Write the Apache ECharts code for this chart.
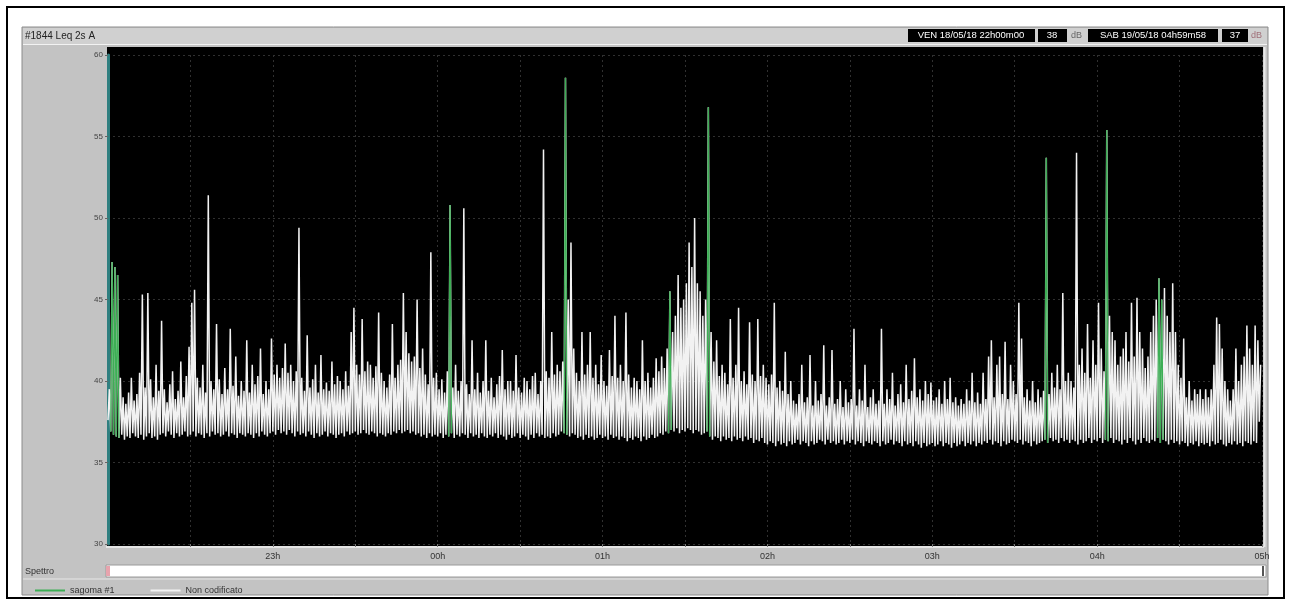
<!DOCTYPE html>
<html>
<head>
<meta charset="utf-8">
<script src="https://cdn.jsdelivr.net/npm/echarts@6/dist/echarts.min.js"></script>
<style>
  html, body { margin: 0; padding: 0; background: #fff; }
  #chart { width: 1290px; height: 605px; }
</style>
</head>
<body>
<div id="chart"></div>
<script>
// Time axis: minutes elapsed since 22h00, one hour label every 60 minutes
const hourLabels = ['22h', '23h', '00h', '01h', '02h', '03h', '04h', '05h'];

// Leq 2s A, per-minute minimum (dB)
const leqLow = [
  37.6,36.9,36.7,36.6,36.5,36.7,36.4,36.6,36.5,36.8,
  36.6,36.5,36.7,36.4,36.6,36.8,36.5,36.6,36.4,36.7,
  36.8,36.6,36.9,36.7,36.5,36.8,36.6,36.7,36.9,36.6,
  36.7,36.9,36.6,36.8,36.7,36.5,36.8,36.6,36.9,36.7,
  36.8,36.6,36.7,36.9,36.6,36.8,36.7,36.5,36.8,36.7,
  36.6,36.8,36.7,36.5,36.8,36.6,36.9,36.7,36.6,36.8,
  36.9,36.7,37.0,36.8,36.9,36.7,37.0,36.8,36.6,36.9,
  36.7,36.8,36.6,36.9,36.7,36.5,36.8,36.6,36.7,36.9,
  36.6,36.8,36.7,36.5,36.7,36.8,36.6,36.9,36.7,36.8,
  36.9,36.7,36.8,37.0,36.8,36.7,36.9,36.8,36.6,36.8,
  36.7,36.6,36.8,36.7,36.9,36.8,37.0,36.8,36.9,37.0,
  36.8,36.9,36.7,36.8,36.6,36.7,36.5,36.8,36.6,36.7,
  36.6,36.8,36.5,36.7,36.6,36.8,36.5,36.7,36.6,36.8,
  36.7,36.5,36.8,36.6,36.7,36.5,36.8,36.6,36.5,36.7,
  36.6,36.8,36.5,36.7,36.6,36.4,36.7,36.5,36.6,36.8,
  36.5,36.7,36.6,36.4,36.7,36.5,36.8,36.6,36.7,36.5,
  36.6,36.5,36.8,36.6,36.7,36.9,36.8,36.7,36.6,36.8,
  36.7,36.5,36.6,36.4,36.7,36.5,36.6,36.4,36.5,36.7,
  36.5,36.6,36.4,36.7,36.5,36.6,36.4,36.6,36.5,36.3,
  36.5,36.4,36.6,36.5,36.3,36.6,36.4,36.5,36.7,36.5,
  36.6,36.8,36.7,36.9,36.8,37.0,36.9,37.1,36.8,37.0,
  36.9,37.1,37.0,36.8,37.0,36.9,36.7,36.8,36.9,36.6,
  36.4,36.6,36.5,36.3,36.6,36.4,36.5,36.3,36.6,36.4,
  36.5,36.3,36.6,36.4,36.5,36.2,36.4,36.3,36.5,36.2,
  36.1,36.3,36.2,36.0,36.3,36.1,36.2,36.0,36.3,36.1,
  36.2,36.4,36.1,36.3,36.2,36.0,36.3,36.1,36.2,36.4,
  36.3,36.1,36.4,36.2,36.3,36.1,36.2,36.4,36.1,36.3,
  36.2,36.4,36.1,36.3,36.2,36.0,36.3,36.2,36.1,36.3,
  36.2,36.0,36.3,36.1,36.2,36.4,36.1,36.3,36.2,36.0,
  36.3,36.1,36.2,36.0,36.3,36.1,35.9,36.2,36.0,36.1,
  36.2,36.0,36.1,36.3,36.0,36.2,36.1,35.9,36.2,36.0,
  36.1,36.3,36.0,36.2,36.1,36.3,36.0,36.2,36.1,36.3,
  36.2,36.4,36.1,36.3,36.2,36.0,36.3,36.1,36.2,36.4,
  36.3,36.2,36.4,36.1,36.3,36.2,36.0,36.3,36.1,36.2,
  36.3,36.4,36.2,36.5,36.3,36.4,36.2,36.5,36.3,36.4,
  36.2,36.4,36.3,36.1,36.4,36.2,36.3,36.5,36.2,36.4,
  36.3,36.5,36.2,36.4,36.3,36.5,36.2,36.4,36.3,36.1,
  36.4,36.2,36.5,36.3,36.1,36.4,36.2,36.5,36.3,36.2,
  36.4,36.3,36.5,36.2,36.4,36.3,36.1,36.4,36.2,36.3,
  36.1,36.3,36.2,36.0,36.2,36.1,36.3,36.0,36.2,36.1,
  36.2,36.0,36.3,36.1,36.2,36.4,36.1,36.0,36.2,36.1,
  36.3,36.1,36.2,36.0,36.3,36.2,36.1,36.3,36.2,37.5
];

// Leq 2s A, per-minute maximum (dB)
const leqHigh = [
  39.5,47.3,47.0,46.5,40.2,39.0,38.6,39.3,40.2,38.8,
  39.2,40.5,45.3,39.6,45.4,40.1,39.0,41.0,39.4,43.7,
  39.5,38.7,39.8,40.6,38.9,39.4,41.2,39.0,40.3,42.1,
  44.8,45.6,40.2,39.6,41.0,39.3,51.4,40.0,39.5,43.5,
  40.1,39.2,40.8,39.5,43.2,39.7,41.5,39.1,40.0,39.4,
  42.5,39.3,41.0,39.8,40.3,42.0,39.2,40.0,39.5,42.6,
  40.4,41.0,40.2,40.8,42.3,40.5,41.0,40.0,40.6,49.4,
  40.2,39.4,42.8,39.6,40.1,41.0,39.3,41.6,39.5,39.9,
  39.4,41.2,39.8,40.3,40.0,39.5,40.6,39.7,43.0,44.5,
  41.0,40.4,43.8,40.6,41.2,41.0,40.2,40.9,44.2,40.5,
  40.0,39.6,40.4,43.5,40.2,41.0,41.3,45.4,43.0,41.7,
  41.2,41.5,45.0,40.8,42.0,40.4,39.8,47.9,40.2,40.5,
  39.5,40.1,39.3,40.6,50.8,39.6,41.0,39.4,40.0,50.6,
  39.8,39.2,42.5,39.5,40.5,39.3,40.0,42.5,39.4,40.2,
  39.0,39.8,40.3,41.9,39.5,40.0,40.0,39.4,41.6,39.6,
  39.3,40.2,40.0,39.5,40.3,40.5,39.2,40.0,54.2,40.6,
  40.2,43.0,40.4,41.0,40.6,41.2,58.6,45.0,48.5,42.0,
  40.5,40.0,43.0,40.4,41.0,43.0,40.2,41.0,39.8,41.6,
  40.0,39.7,41.9,40.3,44.0,40.2,41.0,40.0,44.2,40.4,
  39.6,40.2,40.0,39.5,42.5,40.0,40.5,39.6,40.2,41.4,
  40.6,41.5,40.8,42.0,45.5,43.0,44.0,46.5,44.5,45.0,
  46.0,48.5,47.0,50.0,46.0,45.5,44.0,45.0,56.8,43.0,
  41.2,42.5,40.3,41.0,40.5,39.8,43.8,40.2,41.0,44.5,
  40.0,40.6,39.8,43.6,40.4,40.0,43.8,40.3,41.0,40.2,
  39.8,40.4,44.8,39.6,40.0,39.4,41.8,39.2,40.0,38.8,
  38.6,39.2,41.0,38.7,39.0,41.6,38.5,40.0,38.8,39.2,
  42.2,38.5,39.0,41.9,38.6,38.9,40.0,38.4,39.5,38.7,
  38.9,43.2,38.5,39.5,38.8,41.0,38.4,39.0,39.5,38.6,
  38.8,43.2,38.6,39.5,38.9,40.5,38.5,39.2,39.8,38.7,
  41.0,38.9,39.4,41.4,39.0,39.5,38.8,40.0,39.2,39.9,
  38.8,39.0,39.5,38.6,40.0,38.9,40.2,38.7,39.0,38.5,
  38.9,38.6,39.5,38.8,40.5,38.7,39.3,38.6,40.5,38.9,
  41.5,42.5,39.0,41.0,41.5,39.2,42.4,38.9,41.0,40.0,
  39.2,44.8,42.6,39.0,39.5,38.8,40.0,38.7,39.5,39.0,
  39.4,53.7,39.2,40.5,39.6,41.0,39.5,45.4,40.0,40.5,
  40.0,39.6,54.0,41.0,42.0,40.5,43.5,40.2,42.5,41.0,
  44.8,42.0,40.6,55.4,44.0,43.0,42.5,41.0,41.5,42.0,
  43.0,41.2,44.8,41.5,45.1,43.0,42.0,40.8,41.5,43.0,
  44.0,45.0,46.3,45.0,45.7,44.0,43.0,46.0,43.0,41.0,
  40.2,42.6,39.0,40.0,38.8,39.5,39.2,39.5,38.9,39.5,
  39.0,39.5,41.0,43.9,43.5,42.0,40.0,39.5,38.8,39.5,
  42.0,40.0,41.0,41.5,43.4,42.0,41.0,43.4,42.5,41.0
];

// Minutes classified as "sagoma #1"
const sagomaMinutes = [1, 2, 3, 124, 166, 204, 218, 341, 363, 382, 383];

// Header readouts
const startStamp = 'VEN 18/05/18 22h00m00';
const startLevel = '38';
const endStamp = 'SAB 19/05/18 04h59m58';
const endLevel = '37';

// Each minute is drawn as its minimum then its maximum, half a minute apart
const leqSeries = [];
leqLow.forEach((lo, m) => {
  leqSeries.push([m, lo]);
  leqSeries.push([m + 0.5, leqHigh[m]]);
});

const sagomaSeries = [];
sagomaMinutes.forEach(m => {
  sagomaSeries.push([m, leqLow[m]]);
  sagomaSeries.push([m + 0.5, leqHigh[m]]);
  sagomaSeries.push([m + 1, leqLow[m + 1]]);
  sagomaSeries.push([m + 1.1, '-']);
});

const FONT = 'Liberation Sans, Arial, sans-serif';

const chart = echarts.init(document.getElementById('chart'), null, { renderer: 'canvas' });

const box = (x, y, w, h, fill, z) => ({
  type: 'rect', z: z, silent: true,
  shape: { x: x, y: y, width: w, height: h },
  style: { fill: fill }
});
const label = (x, y, text, color, size, align, z) => ({
  type: 'text', z: z || 20, silent: true, x: x, y: y,
  style: { text: text, fill: color, font: size + 'px ' + FONT, textAlign: align || 'left', textVerticalAlign: 'middle' }
});

chart.setOption({
  animation: false,
  backgroundColor: '#fff',
  graphic: [
    // page frame
    { type: 'rect', z: -30, silent: true, shape: { x: 7, y: 7, width: 1277, height: 591 },
      style: { fill: '#fff', stroke: '#000', lineWidth: 2 } },
    // window panel
    { type: 'rect', z: -29, silent: true, shape: { x: 22, y: 27, width: 1246, height: 568 },
      style: { fill: '#c3c3c3', stroke: '#8c8c8c', lineWidth: 1 } },
    box(23, 28, 1244, 16, '#d0d0d0', -28),
    { type: 'line', z: -27, silent: true, shape: { x1: 23, y1: 44.5, x2: 1267, y2: 44.5 }, style: { stroke: '#f2f2f2', lineWidth: 1 } },
    // plot area
    box(107, 47, 1156, 499, '#000', -26),
    { type: 'line', z: -25, silent: true, shape: { x1: 106, y1: 547, x2: 1264, y2: 547 }, style: { stroke: '#f0f0f0', lineWidth: 1.5 } },
    { type: 'line', z: -25, silent: true, shape: { x1: 1264.5, y1: 47, x2: 1264.5, y2: 547 }, style: { stroke: '#e8e8e8', lineWidth: 2 } },
    // spectrum strip
    { type: 'rect', z: -25, silent: true, shape: { x: 106, y: 565, width: 1160, height: 12 },
      style: { fill: '#fff', stroke: '#9a9a9a', lineWidth: 1 } },
    box(106, 566, 4, 10, '#e7a3ad', -24),
    box(1262, 566, 2, 10, '#555', -24),
    label(25, 571.5, 'Spettro', '#333', 9),
    { type: 'line', z: -25, silent: true, shape: { x1: 23, y1: 579, x2: 1267, y2: 579 }, style: { stroke: '#e6e6e6', lineWidth: 1 } },
    // title
    label(25, 36, '#1844 Leq 2s A', '#222', 10),
    // start readout
    box(908, 29, 127, 13, '#000', 10),
    label(971, 35.5, startStamp, '#fff', 9.5, 'center'),
    box(1038, 29, 29, 13, '#000', 10),
    label(1052, 35.5, startLevel, '#fff', 9.5, 'center'),
    label(1071, 35.5, 'dB', '#666', 9),
    // end readout
    box(1088, 29, 130, 13, '#000', 10),
    label(1153, 35.5, endStamp, '#fff', 9.5, 'center'),
    box(1222, 29, 26, 13, '#000', 10),
    label(1235, 35.5, endLevel, '#fff', 9.5, 'center'),
    label(1251, 35.5, 'dB', '#a06f78', 9)
  ],
  grid: { left: 108, right: 28, top: 55, bottom: 61, show: false, containLabel: false },
  legend: {
    left: 30, top: 581, itemWidth: 30, itemHeight: 2, icon: 'rect', itemGap: 36,
    selectedMode: false,
    textStyle: { fontSize: 9, color: '#333', fontFamily: FONT },
    data: ['sagoma #1', 'Non codificato']
  },
  xAxis: {
    type: 'value', min: 0, max: 420, interval: 30,
    axisLine: { show: false },
    axisTick: { show: true, length: 3, lineStyle: { color: '#777' } },
    axisLabel: {
      fontSize: 9, color: '#333', fontFamily: FONT, margin: 8,
      showMinLabel: false, showMaxLabel: true,
      formatter: v => (v % 60 === 0 ? hourLabels[v / 60] : '')
    },
    splitLine: { show: true, lineStyle: { color: '#303030', width: 1, type: [2, 3] } }
  },
  yAxis: {
    type: 'value', min: 30, max: 60, interval: 5,
    axisLine: { show: true, lineStyle: { color: '#2f7f80', width: 3 } },
    axisTick: { show: true, length: 3, lineStyle: { color: '#666' } },
    axisLabel: { fontSize: 8, color: '#444', fontFamily: FONT, margin: 5 },
    splitLine: { show: true, lineStyle: { color: '#303030', width: 1, type: [2, 3] } }
  },
  series: [
    {
      name: 'Non codificato', type: 'line', data: leqSeries,
      showSymbol: false, symbol: 'none', silent: true, z: 3,
      color: '#f2f2f2',
      lineStyle: { color: '#f2f2f2', width: 1.5 }
    },
    {
      name: 'sagoma #1', type: 'line', data: sagomaSeries,
      showSymbol: false, symbol: 'none', silent: true, z: 4, connectNulls: false,
      color: '#3dae55',
      lineStyle: { color: '#3dae55', width: 1.3 }
    }
  ]
});
</script>
</body>
</html>
